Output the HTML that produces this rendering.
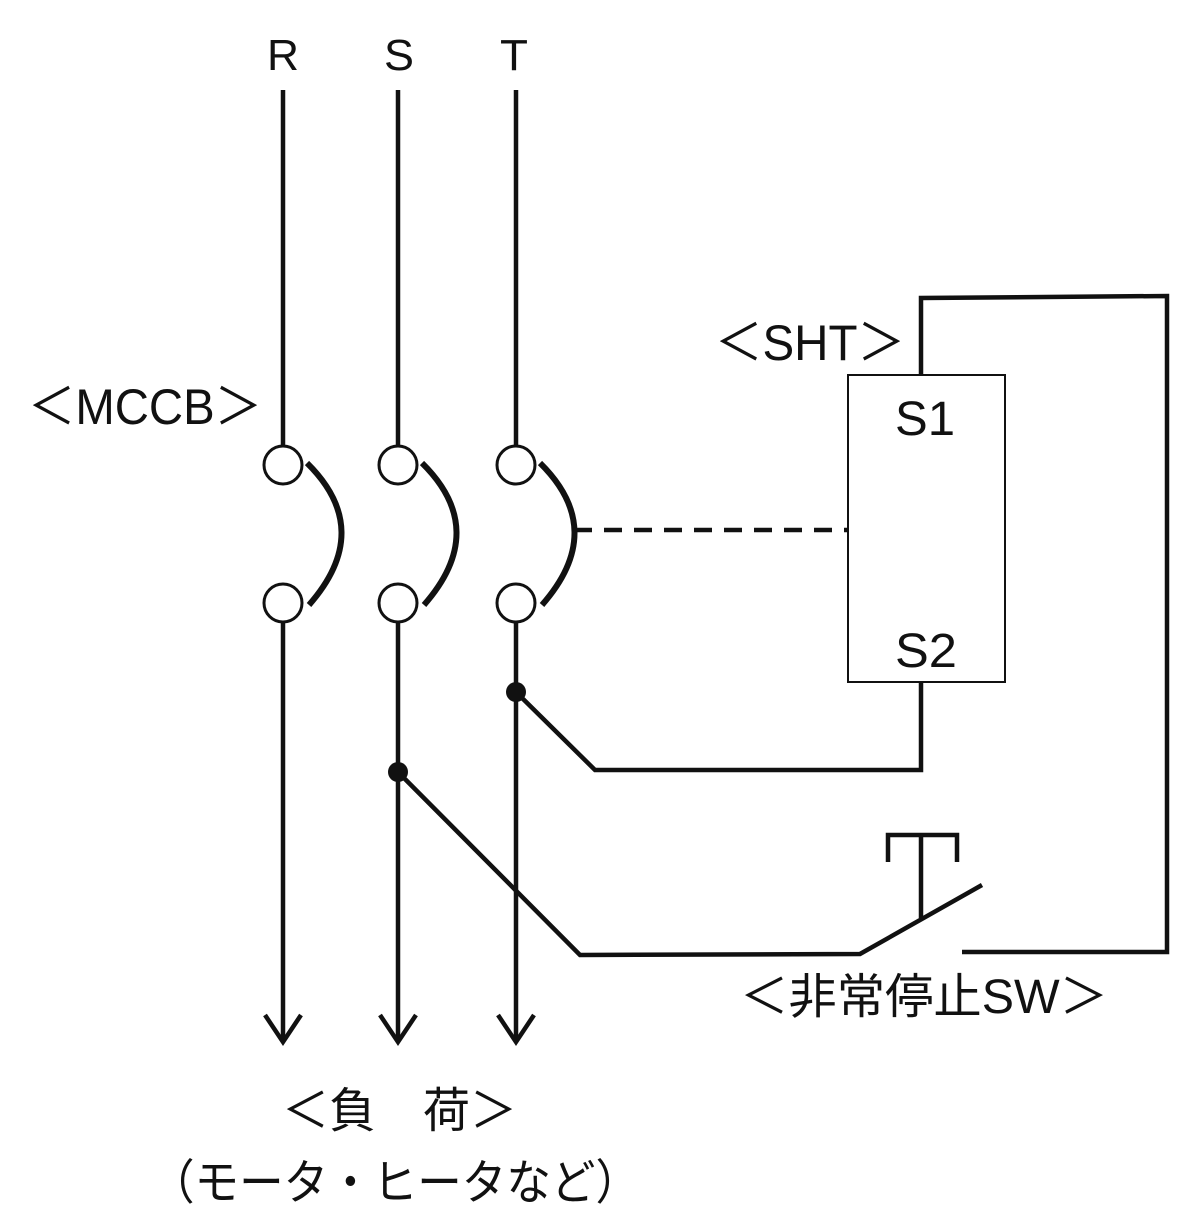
<!DOCTYPE html>
<html><head><meta charset="utf-8"><style>html,body{margin:0;padding:0;background:#fff}svg{display:block}</style></head><body>
<svg width="1200" height="1219" viewBox="0 0 1200 1219" xmlns="http://www.w3.org/2000/svg" font-family="Liberation Sans, Noto Sans CJK JP, sans-serif" fill="#111">
<g stroke="#111" stroke-width="4.5" fill="none">
<line x1="283" y1="90" x2="283" y2="445"/>
<line x1="398" y1="90" x2="398" y2="445"/>
<line x1="516" y1="90" x2="516" y2="445"/>
<line x1="283" y1="623" x2="283" y2="1040"/>
<line x1="398" y1="623" x2="398" y2="1040"/>
<line x1="516" y1="623" x2="516" y2="1040"/>
<circle cx="283" cy="465" r="19" stroke-width="3"/>
<circle cx="398" cy="465" r="19" stroke-width="3"/>
<circle cx="516" cy="465" r="19" stroke-width="3"/>
<circle cx="283" cy="603" r="19" stroke-width="3"/>
<circle cx="398" cy="603" r="19" stroke-width="3"/>
<circle cx="516" cy="603" r="19" stroke-width="3"/>
<path d="M307 463 Q375 530 309 605" stroke-width="6"/>
<path d="M422 463 Q490 530 424 605" stroke-width="6"/>
<path d="M540 463 Q608 530 542 605" stroke-width="6"/>
<line x1="574" y1="530" x2="848" y2="530" stroke-dasharray="18,12"/>
<rect x="848" y="375" width="157" height="307" stroke-width="2"/>
<polyline points="921,375 921,298 1167,296 1167,952 962,952"/>
<polyline points="921,682 921,770 595,770 516,692"/>
<polyline points="398,772 580,955 860,954 982,885"/>
<polyline points="888,862 888,835 957,835 957,862"/>
<line x1="921" y1="835" x2="921" y2="918"/>
<polyline points="265,1015 283,1042 301,1015"/>
<polyline points="380,1015 398,1042 416,1015"/>
<polyline points="498,1015 516,1042 534,1015"/>
</g>
<circle cx="516" cy="692" r="10"/>
<circle cx="398" cy="772" r="10"/>
<g font-size="44" text-anchor="middle">
<text x="283" y="70" textLength="32" lengthAdjust="spacingAndGlyphs">R</text>
<text x="399" y="70" textLength="30" lengthAdjust="spacingAndGlyphs">S</text>
<text x="514" y="70" textLength="28" lengthAdjust="spacingAndGlyphs">T</text>
</g>
<text x="28" y="424" font-size="50" textLength="234" lengthAdjust="spacingAndGlyphs">＜MCCB＞</text>
<text x="715" y="360" font-size="50" textLength="190" lengthAdjust="spacingAndGlyphs">＜SHT＞</text>
<text x="895" y="435" font-size="48" textLength="60" lengthAdjust="spacingAndGlyphs">S1</text>
<text x="895" y="667" font-size="48" textLength="62" lengthAdjust="spacingAndGlyphs">S2</text>
<text x="740" y="1013" font-size="48" textLength="368" lengthAdjust="spacingAndGlyphs">＜非常停止SW＞</text>
<text x="282" y="1127" font-size="48" textLength="235" lengthAdjust="spacingAndGlyphs">＜負　荷＞</text>
<text x="150" y="1199" font-size="48" textLength="490" lengthAdjust="spacingAndGlyphs">（モータ・ヒータなど）</text>
</svg>
</body></html>
